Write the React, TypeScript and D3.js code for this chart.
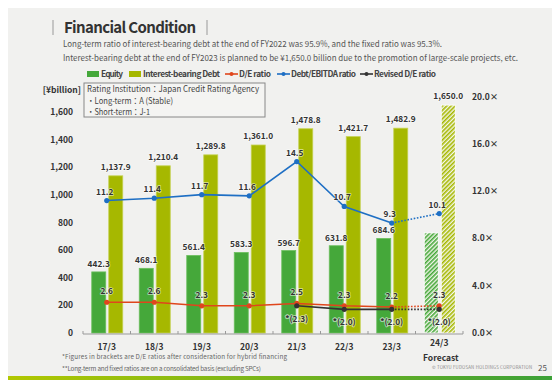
import { useRef, useEffect } from "react";
import * as d3 from "d3";

const categories = ["17/3", "18/3", "19/3", "20/3", "21/3", "22/3", "23/3", "24/3"];
const equity = [442.3, 468.1, 561.4, 583.3, 596.7, 631.8, 684.6, 725.0];
const debt = [1137.9, 1210.4, 1289.8, 1361.0, 1478.8, 1421.7, 1482.9, 1650.0];
const deRatio = [2.6, 2.6, 2.3, 2.3, 2.5, 2.3, 2.2, 2.3];
const ebitda = [11.2, 11.4, 11.7, 11.6, 14.5, 10.7, 9.3, 10.1];
// revised D/E starts at 21/3
const revisedCats = ["21/3", "22/3", "23/3", "24/3"];
const revisedDe = [2.3, 2.0, 2.0, 2.0];
const leftTicks = [0, 200, 400, 600, 800, 1000, 1200, 1400, 1600];
const rightTicks = [0, 4, 8, 12, 16, 20];
const forecastCat = "24/3";

const GREEN = "#45a83a";
const YELLOW = "#a6b800";
const RED = "#e0461c";
const BLUE = "#1e6fc4";
const BLACK = "#333333";
const FONT = "'Noto Sans CJK JP', 'Noto Sans', sans-serif";

const App = () => {
  const svgRef = useRef(null);

  useEffect(() => {
    const root = d3.select(svgRef.current);
    root.selectAll("*").remove();

    const width = 560;
    const height = 388;
    const svg = root.attr("width", width).attr("height", height).style("font-family", FONT);

    const defs = svg.append("defs");
    const grad = defs.append("linearGradient").attr("id", "stripe");
    grad.append("stop").attr("offset", "0%").attr("stop-color", "#b3c800");
    grad.append("stop").attr("offset", "100%").attr("stop-color", "#3aa038");

    const hatch = (id, color) => {
      const p = defs
        .append("pattern")
        .attr("id", id)
        .attr("patternUnits", "userSpaceOnUse")
        .attr("width", 3)
        .attr("height", 3)
        .attr("patternTransform", "rotate(45)");
      p.append("rect").attr("width", 3).attr("height", 3).attr("fill", "#f4f6ea");
      p.append("rect").attr("width", 1.6).attr("height", 3).attr("fill", color);
    };
    hatch("hatchG", GREEN);
    hatch("hatchY", YELLOW);

    svg.append("rect").attr("width", width).attr("height", height).attr("fill", "#f1f1ef");
    svg.append("rect").attr("x", 0).attr("y", 376).attr("width", width).attr("height", 5).attr("fill", "url(#stripe)");

    // title
    svg.append("line").attr("x1", 53).attr("x2", 53).attr("y1", 20).attr("y2", 35).attr("stroke", "#999").attr("stroke-width", 1);
    svg.append("line").attr("x1", 207).attr("x2", 207).attr("y1", 20).attr("y2", 35).attr("stroke", "#999").attr("stroke-width", 1);
    svg
      .append("text")
      .attr("x", 64)
      .attr("y", 33)
      .attr("font-size", 15)
      .attr("font-weight", "bold")
      .attr("fill", "#333")
      .attr("textLength", 132)
      .text("Financial Condition");

    const sub = [
      ["Long-term ratio of interest-bearing debt at the end of FY2022 was 95.9%, and the fixed ratio was 95.3%.", 379, 47],
      ["Interest-bearing debt at the end of FY2023 is planned to be ¥1,650.0 billion due to the promotion of large-scale projects, etc.", 455, 61],
    ];
    sub.forEach(([t, len, y]) => {
      svg
        .append("text")
        .attr("x", 63)
        .attr("y", y)
        .attr("font-size", 8.3)
        .attr("fill", "#555")
        .attr("textLength", len)
        .attr("lengthAdjust", "spacingAndGlyphs")
        .text(t);
    });

    // legend
    const lg = svg.append("g").attr("font-size", 8.3).attr("font-weight", "bold").attr("fill", "#444");
    const rectItem = (x, color, label, len) => {
      lg.append("rect").attr("x", x).attr("y", 71).attr("width", 12).attr("height", 6).attr("fill", color);
      lg.append("text").attr("x", x + 14).attr("y", 77).attr("textLength", len).text(label);
    };
    const lineItem = (x, color, label, len) => {
      lg.append("line").attr("x1", x).attr("x2", x + 13).attr("y1", 74).attr("y2", 74).attr("stroke", color).attr("stroke-width", 1.6);
      lg.append("circle").attr("cx", x + 6.5).attr("cy", 74).attr("r", 2).attr("fill", color);
      lg.append("text").attr("x", x + 14).attr("y", 77).attr("textLength", len).text(label);
    };
    rectItem(87, GREEN, "Equity", 22);
    rectItem(129, YELLOW, "Interest-bearing Debt", 77);
    lineItem(225, RED, "D/E ratio", 32);
    lineItem(277, BLUE, "Debt/EBITDA ratio", 65);
    lineItem(360, BLACK, "Revised D/E ratio", 62);

    const x = d3.scaleBand().domain(categories).range([83, 463]).padding(0);
    const yL = d3.scaleLinear().domain([0, 1600]).range([333, 112]);
    const yR = d3.scaleLinear().domain([0, 20]).range([333, 96.5]);
    const cx = (c) => x(c) + x.bandwidth() / 2;

    // axis labels
    svg
      .append("text")
      .attr("x", 81)
      .attr("y", 93)
      .attr("text-anchor", "end")
      .attr("font-size", 8.5)
      .attr("font-weight", "bold")
      .attr("fill", "#333")
      .text("[¥billion]");

    svg
      .append("g")
      .selectAll("text")
      .data(leftTicks)
      .enter()
      .append("text")
      .attr("x", 73)
      .attr("y", (d) => yL(d) + 3)
      .attr("text-anchor", "end")
      .attr("font-size", 8.5)
      .attr("font-weight", "bold")
      .attr("fill", "#333")
      .text((d) => d3.format(",")(d));

    svg
      .append("g")
      .selectAll("text")
      .data(rightTicks)
      .enter()
      .append("text")
      .attr("x", 472)
      .attr("y", (d) => yR(d) + 3)
      .attr("font-size", 8.5)
      .attr("font-weight", "bold")
      .attr("fill", "#333")
      .text((d) => d.toFixed(1) + "×");

    // bars
    const barW = 14;
    const bars = svg.append("g");
    categories.forEach((c, i) => {
      const f = c === forecastCat;
      bars
        .append("rect")
        .attr("x", cx(c) - 15)
        .attr("y", yL(equity[i]))
        .attr("width", barW)
        .attr("height", yL(0) - yL(equity[i]))
        .attr("fill", f ? "url(#hatchG)" : GREEN)
        .attr("stroke", f ? "#fff" : "#6cbf5e")
        .attr("stroke-width", 0.8);
      bars
        .append("rect")
        .attr("x", cx(c) + 2)
        .attr("y", yL(debt[i]))
        .attr("width", barW)
        .attr("height", yL(0) - yL(debt[i]))
        .attr("fill", f ? "url(#hatchY)" : YELLOW)
        .attr("stroke", f ? "#fff" : "#c4d250")
        .attr("stroke-width", 0.8);
    });

    const labelStyle = (sel) =>
      sel
        .attr("text-anchor", "middle")
        .attr("font-size", 8.3)
        .attr("font-weight", "bold")
        .attr("fill", "#333")
        .attr("stroke", "#fff")
        .attr("stroke-width", 1.6)
        .attr("stroke-opacity", 0.6)
        .attr("paint-order", "stroke");

    categories.forEach((c, i) => {
      if (c !== forecastCat) {
        labelStyle(svg.append("text").attr("x", cx(c) - 8).attr("y", yL(equity[i]) - 5)).text(equity[i].toFixed(1));
      }
      labelStyle(svg.append("text").attr("x", cx(c) + 9).attr("y", yL(debt[i]) - 6)).text(d3.format(",.1f")(debt[i]));
    });

    // x axis
    const ax = svg.append("g").attr("stroke", "#999").attr("stroke-width", 1);
    ax.append("line").attr("x1", 83).attr("x2", 463).attr("y1", 334).attr("y2", 334);
    categories.concat(["end"]).forEach((c, i) => {
      const xx = 83 + i * x.bandwidth();
      ax.append("line").attr("x1", xx).attr("x2", xx).attr("y1", 331).attr("y2", 334);
    });
    svg
      .append("g")
      .selectAll("text")
      .data(categories)
      .enter()
      .append("text")
      .attr("x", (d) => cx(d))
      .attr("y", (d) => (d === forecastCat ? 346 : 350))
      .attr("text-anchor", "middle")
      .attr("font-size", 8.5)
      .attr("font-weight", "bold")
      .attr("fill", "#333")
      .text((d) => d);

    // lines
    const drawLine = (cats, vals, color) => {
      const pts = cats.map((c, i) => [cx(c), yR(vals[i])]);
      const n = pts.length;
      const line = d3.line();
      svg.append("path").attr("d", line(pts.slice(0, n - 1))).attr("fill", "none").attr("stroke", color).attr("stroke-width", 1.6);
      svg
        .append("path")
        .attr("d", line(pts.slice(n - 2)))
        .attr("fill", "none")
        .attr("stroke", color)
        .attr("stroke-width", 1.6)
        .attr("stroke-dasharray", "1.6,1.6");
      svg
        .append("g")
        .selectAll("circle")
        .data(pts)
        .enter()
        .append("circle")
        .attr("cx", (d) => d[0])
        .attr("cy", (d) => d[1])
        .attr("r", 2.6)
        .attr("fill", color);
      return pts;
    };

    const dePts = drawLine(categories, deRatio, RED);
    const revPts = drawLine(revisedCats, revisedDe, BLACK);
    const ebPts = drawLine(categories, ebitda, BLUE);

    dePts.forEach((p, i) => labelStyle(svg.append("text").attr("x", p[0]).attr("y", p[1] - 8)).text(deRatio[i].toFixed(1)));
    revPts.forEach((p, i) => labelStyle(svg.append("text").attr("x", p[0]).attr("y", p[1] + 16)).text(`*(${revisedDe[i].toFixed(1)})`));
    ebPts.forEach((p, i) => labelStyle(svg.append("text").attr("x", p[0] - 2).attr("y", p[1] - 6)).text(ebitda[i].toFixed(1)));

    // rating box
    svg.append("rect").attr("x", 84).attr("y", 83).attr("width", 181).attr("height", 34).attr("fill", "#f4f4f2").attr("stroke", "#888").attr("stroke-width", 1);
    const rating = [
      ["Rating Institution：Japan Credit Rating Agency", 172],
      ["・Long-term：A (Stable)", 86],
      ["・Short-term：J-1", 63],
    ];
    rating.forEach(([t, len], i) => {
      svg
        .append("text")
        .attr("x", 87)
        .attr("y", 92 + i * 11.5)
        .attr("font-size", 8.3)
        .attr("fill", "#444")
        .attr("textLength", len)
        .attr("lengthAdjust", "spacingAndGlyphs")
        .text(t);
    });

    // footer
    svg.append("text").attr("x", 423).attr("y", 361).attr("font-size", 8.5).attr("font-weight", "bold").attr("fill", "#333").text("Forecast");
    svg.append("text").attr("x", 62).attr("y", 359).attr("font-size", 6.3).attr("fill", "#666").attr("textLength", 225).text("*Figures  in brackets are D/E ratios after consideration for hybrid financing");
    svg.append("text").attr("x", 62).attr("y", 371).attr("font-size", 6.3).attr("fill", "#666").attr("textLength", 199).text("**Long-term and fixed ratios are on a consolidated basis (excluding SPCs)");
    svg.append("text").attr("x", 432).attr("y", 369).attr("font-size", 4.3).attr("fill", "#888").attr("textLength", 100).text("© TOKYU FUDOSAN HOLDINGS CORPORATION");
    svg.append("text").attr("x", 538).attr("y", 371).attr("font-size", 8).attr("fill", "#555").text("25");
  }, []);

  return (
    <div style={{ width: 560, height: 388, margin: -8 }}>
      <svg ref={svgRef}></svg>
    </div>
  );
};

export default App;
